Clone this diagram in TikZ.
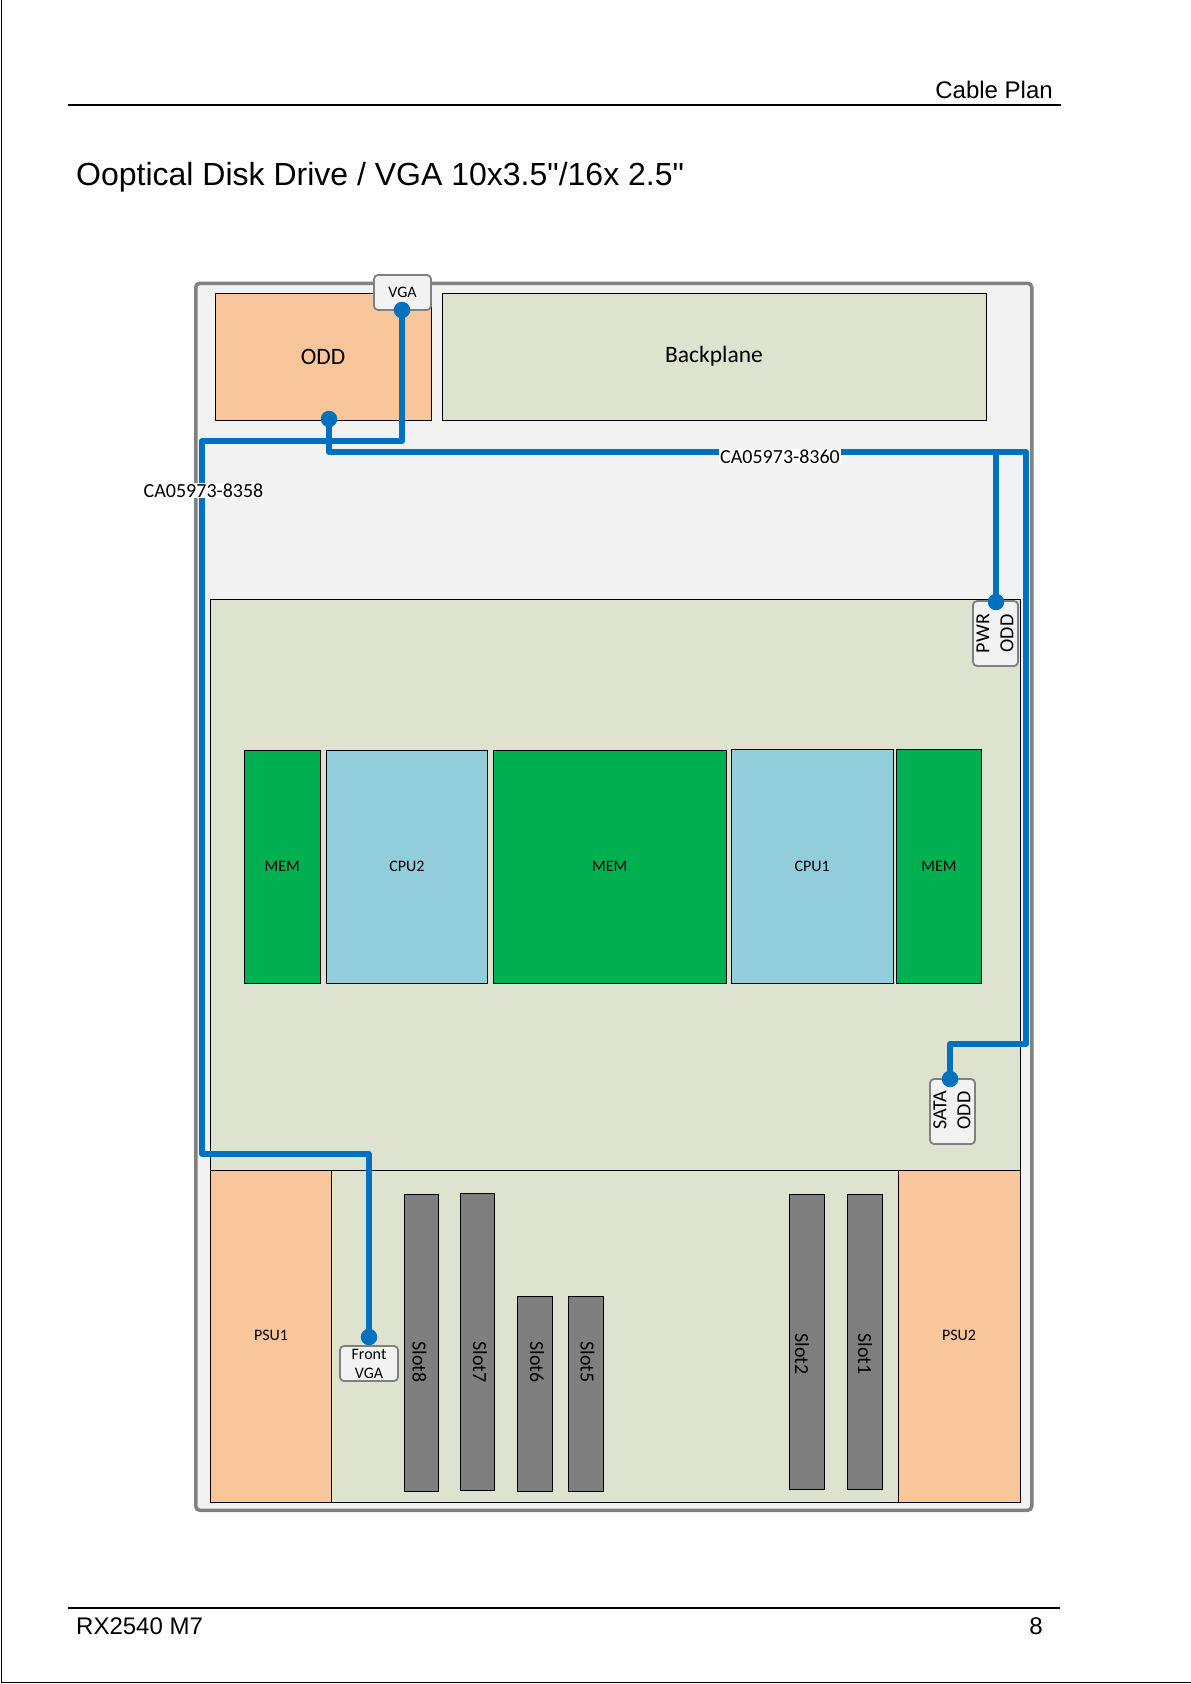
\documentclass[tikz,border=0pt]{standalone}
\usepackage{fontspec}
\setmainfont{Liberation Sans}
\newfontfamily\titlefont{Liberation Sans}
\newfontfamily\dfont{Carlito}
\begin{document}
\begin{tikzpicture}[x=1pt,y=-1pt,
  box/.style={draw=black,line width=0.8pt,anchor=north west,inner sep=0pt,outer sep=0pt,font=\dfont\fontsize{16}{16}\selectfont},
  chassis/.style={draw=black!50,line width=3.5pt,rounded corners=4pt,fill=black!5},
  port/.style={draw=black!50,line width=1.8pt,rounded corners=4pt,fill=black!5,anchor=north west,inner sep=0pt,outer sep=0pt,align=center,font=\dfont\fontsize{16}{18}\selectfont},
  cable/.style={draw=cableblue,line width=6pt,line join=round,line cap=round},
  dot/.style={circle,fill=cableblue,inner sep=0pt,minimum size=16.5pt},
  cablelabel/.style={fill=white,inner sep=1pt,font=\dfont\fontsize{20}{20}\selectfont},
  rule/.style={line width=1.8pt},
  odd/.style={box,fill=oddorange},
  pcb/.style={box,fill=pcbgreen},
  mem/.style={box,fill=memgreen},
  cpu/.style={box,fill=cpublue},
  slotbar/.style={box,fill=slotgray},
  hdr/.style={font=\fontsize{24}{24}\selectfont,inner sep=0pt}
]
\definecolor{cableblue}{HTML}{0070C0}
\definecolor{oddorange}{HTML}{F8C69A}
\definecolor{pcbgreen}{HTML}{DDE3CE}
\definecolor{memgreen}{HTML}{00B050}
\definecolor{cpublue}{HTML}{92CDDC}
\definecolor{slotgray}{HTML}{7F7F7F}
\useasboundingbox (0,0) rectangle (1191,1684);
\fill[white] (0,0) rectangle (1191,1684);
% page frame
\coordinate (pa) at (1,0); \coordinate (pb) at (1,1682); \coordinate (pc) at (1191,1682);
\draw[line width=1pt] (pa) -- (pb) -- (pc);
% header / footer
\coordinate (hl) at (68,105); \coordinate (hr) at (1061,105);
\draw[rule] (hl) -- (hr);
\coordinate (fl) at (68,1608); \coordinate (fr) at (1060,1608);
\draw[rule] (fl) -- (fr);
\node[hdr,anchor=base east] (cableplan) at (1053,98) {Cable Plan};
\node[anchor=base west,inner sep=0pt,font=\titlefont\fontsize{32}{32}\selectfont] (title) at (76,185) {Ooptical Disk Drive / VGA 10x3.5"/16x 2.5"};
\node[hdr,anchor=base west] (model) at (76,1634) {RX2540 M7};
\node[hdr,anchor=base east] (pageno) at (1043,1634) {8};
% chassis
\node[chassis,anchor=north west,minimum width=836pt,minimum height=1227pt,inner sep=0pt] (chassis) at (194,281.5) {};
% drive bays
\node[odd,minimum width=216pt,minimum height=127pt,font=\dfont\fontsize{23.5}{23.5}\selectfont] (oddbay) at (215,293) {ODD};
\node[pcb,minimum width=544pt,minimum height=127pt,font=\dfont\fontsize{23.5}{23.5}\selectfont] (backplane) at (442,293) {\raisebox{-1pt}{Backplane}};
% main board
\node[pcb,minimum width=810pt,minimum height=571pt] (board) at (210,599) {};
\node[pcb,minimum width=810pt,minimum height=332pt] (lower) at (210,1170) {};
\node[odd,minimum width=121pt,minimum height=332pt] (psu1) at (210,1170) {};
\node[font=\dfont\fontsize{16}{16}\selectfont,inner sep=0pt] (psu1t) at (271,1335) {PSU1};
\node[odd,minimum width=122pt,minimum height=332pt] (psu2) at (898,1170) {};
\node[font=\dfont\fontsize{16}{16}\selectfont,inner sep=0pt] (psu2t) at (959,1335) {PSU2};
% memory & cpu
\node[mem,minimum width=76.5pt,minimum height=232.5pt] (mem1) at (244,750.5) {\raisebox{1pt}{MEM}};
\node[cpu,minimum width=161pt,minimum height=232.5pt] (cpu2) at (326.5,750.5) {\raisebox{1pt}{CPU2}};
\node[mem,minimum width=233.5pt,minimum height=232.5pt] (mem2) at (493,750.5) {\raisebox{1pt}{MEM}};
\node[cpu,minimum width=162.5pt,minimum height=233.5pt] (cpu1) at (731,749.5) {CPU1};
\node[mem,minimum width=85pt,minimum height=233.5pt] (mem3) at (896.5,749.5) {MEM};
% slots
\node[slotbar,minimum width=34.5pt,minimum height=297pt] (slot8) at (404,1194) {};
\node[slotbar,minimum width=34pt,minimum height=297.5pt] (slot7) at (460.5,1193) {};
\node[slotbar,minimum width=35.5pt,minimum height=195pt] (slot6) at (517,1296.5) {};
\node[slotbar,minimum width=35.5pt,minimum height=195pt] (slot5) at (568,1296.5) {};
\node[slotbar,minimum width=35pt,minimum height=295pt] (slot2) at (789.5,1194.5) {};
\node[slotbar,minimum width=35pt,minimum height=295pt] (slot1) at (847.5,1194.5) {};
\tikzset{slottext/.style={rotate=-90,inner sep=0pt,font=\dfont\fontsize{20}{20}\selectfont}}
\node[slottext] (t8) at (419.5,1362) {Slot8};
\node[slottext] (t7) at (480,1362) {Slot7};
\node[slottext] (t6) at (537,1362) {Slot6};
\node[slottext] (t5) at (587.5,1362) {Slot5};
\node[slottext] (t2) at (802,1354) {Slot2};
\node[slottext] (t1) at (865,1354) {Slot1};
% ports
\node[port,minimum width=57pt,minimum height=35pt] (vga) at (374,275) {VGA};
\node[port,minimum width=45pt,minimum height=65pt] (pwr) at (973,601) {};
\node[inner sep=0pt,rotate=90,align=center,font=\dfont\fontsize{20}{24}\selectfont] (pwrt) at (995,633.5) {PWR\\ODD};
\node[port,minimum width=45pt,minimum height=65pt] (sata) at (930,1079) {};
\node[inner sep=0pt,rotate=90,align=center,font=\dfont\fontsize{20}{24}\selectfont] (satat) at (952,1110.5) {SATA\\ODD};
\node[port,minimum width=58pt,minimum height=35pt,font=\dfont\fontsize{16}{19}\selectfont] (fvga) at (340,1346) {Front\\VGA};
% dots
\node[dot] (dvga) at (402,310) {};
\node[dot] (dodd) at (329,419) {};
\node[dot] (dpwr) at (996,602) {};
\node[dot] (dsata) at (950,1079) {};
\node[dot] (dfvga) at (369,1337) {};
\node[circle,fill=cableblue,inner sep=0pt,minimum size=9pt] (jct) at (329,441) {};
% cable bends
\coordinate (a1) at (402,441);
\coordinate (a2) at (202,441);
\coordinate (a3) at (202,1154);
\coordinate (a4) at (369,1154);
\coordinate (b1) at (329,452);
\coordinate (b2) at (996,452);
\coordinate (b3) at (1026,452);
\coordinate (b4) at (1026,1044);
\coordinate (b5) at (950,1044);
\draw[cable] (dvga.center) -- (a1) -- (a2) -- (a3) -- (a4) -- (dfvga.center);
\draw[cable] (dodd.center) -- (b1) -- (b2) -- (b3) -- (b4) -- (b5) -- (dsata.center);
\draw[cable] (b2) -- (dpwr.center);
% labels
\node[cablelabel] (l58) at (203.5,490.5) {CA05973-8358};
\node[cablelabel] (l60) at (780,456.5) {CA05973-8360};
\end{tikzpicture}
\end{document}
